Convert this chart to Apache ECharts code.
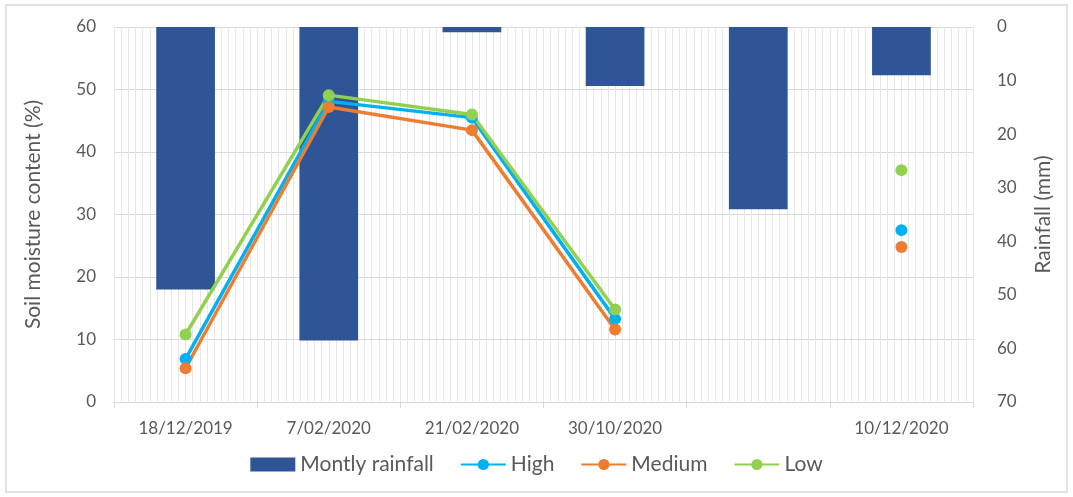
<!DOCTYPE html>
<html>
<head>
<meta charset="utf-8">
<script src="https://cdn.jsdelivr.net/npm/echarts@6/dist/echarts.min.js"></script>
<style>html,body{margin:0;padding:0;background:#fff}#c{width:1073px;height:497px}</style>
</head>
<body>
<div id="c"></div>
<script>
const categories = ['18/12/2019', '7/02/2020', '21/02/2020', '30/10/2020', '', '10/12/2020'];
const rainfall = [49, 58.5, 1, 11, 34, 9];
const high = [6.9, 48.1, 45.5, 13.3, null, 27.5];
const medium = [5.4, 47.2, 43.5, 11.6, null, 24.8];
const low = [10.8, 49.1, 46.0, 14.8, null, 37.1];
const leftTicks = { min: 0, max: 60, interval: 10 };
const rightTicks = { min: 0, max: 70, interval: 10 };

const FONT = 'Lato';
const GRAY = '#595959';
const chart = echarts.init(document.getElementById('c'), null, { renderer: 'canvas' });
const lineSeries = (name, data, color) => ({
  name, type: 'line', data, xAxisIndex: 0, yAxisIndex: 0,
  symbol: 'circle', symbolSize: 12,
  itemStyle: { color },
  lineStyle: { color, width: 3.5 },
  connectNulls: false, z: 5
});
chart.setOption({
  animation: false,
  textStyle: { fontFamily: FONT },
  graphic: [{
    type: 'rect', shape: { x: 6, y: 5, width: 1061, height: 487 },
    style: { fill: 'none', stroke: '#d9d9d9', lineWidth: 1.5 }, silent: true, z: -10
  }],
  grid: { left: 114, right: 100, top: 27, bottom: 95 },
  legend: {
    bottom: 17, left: 'center', itemGap: 26, itemWidth: 45, itemHeight: 14,
    textStyle: { color: GRAY, fontSize: 21, fontFamily: FONT },
    data: [
      { name: 'Montly rainfall', icon: 'rect' },
      { name: 'High' }, { name: 'Medium' }, { name: 'Low' }
    ]
  },
  xAxis: [{
    type: 'category', data: categories, position: 'bottom',
    axisLine: { lineStyle: { color: '#d9d9d9' } },
    axisTick: { show: true, length: 6, lineStyle: { color: '#d9d9d9' } },
    axisLabel: { color: GRAY, fontSize: 17, margin: 18, interval: 0 },
    splitLine: { show: false }
  }, {
    type: 'value', min: 0, max: 120, interval: 1, position: 'top',
    axisLine: { show: false }, axisTick: { show: false }, axisLabel: { show: false },
    splitLine: { show: true, lineStyle: { color: '#e6e6e6', width: 1 } }
  }],
  yAxis: [{
    type: 'value', min: leftTicks.min, max: leftTicks.max, interval: leftTicks.interval,
    name: 'Soil moisture content (%)', nameLocation: 'middle', nameGap: 70, nameRotate: 90,
    nameTextStyle: { color: GRAY, fontSize: 21, fontFamily: FONT },
    axisLine: { show: false }, axisTick: { show: false },
    axisLabel: { color: GRAY, fontSize: 17, margin: 18 },
    splitLine: { show: true, lineStyle: { color: '#d9d9d9', width: 1.2 } }
  }, {
    type: 'value', min: rightTicks.min, max: rightTicks.max, interval: rightTicks.interval, inverse: true,
    position: 'right',
    name: 'Rainfall (mm)', nameLocation: 'middle', nameGap: 60, nameRotate: 90,
    nameTextStyle: { color: GRAY, fontSize: 21, fontFamily: FONT },
    axisLine: { show: false }, axisTick: { show: false },
    axisLabel: { color: GRAY, fontSize: 17, margin: 24 },
    splitLine: { show: false }
  }],
  series: [
    {
      name: 'Montly rainfall', type: 'bar', data: rainfall, xAxisIndex: 0, yAxisIndex: 1,
      barWidth: '41%', itemStyle: { color: '#2F5597' }, z: 2
    },
    lineSeries('High', high, '#00B0F0'),
    lineSeries('Medium', medium, '#ED7D31'),
    lineSeries('Low', low, '#92D050')
  ]
});
</script>
</body>
</html>
